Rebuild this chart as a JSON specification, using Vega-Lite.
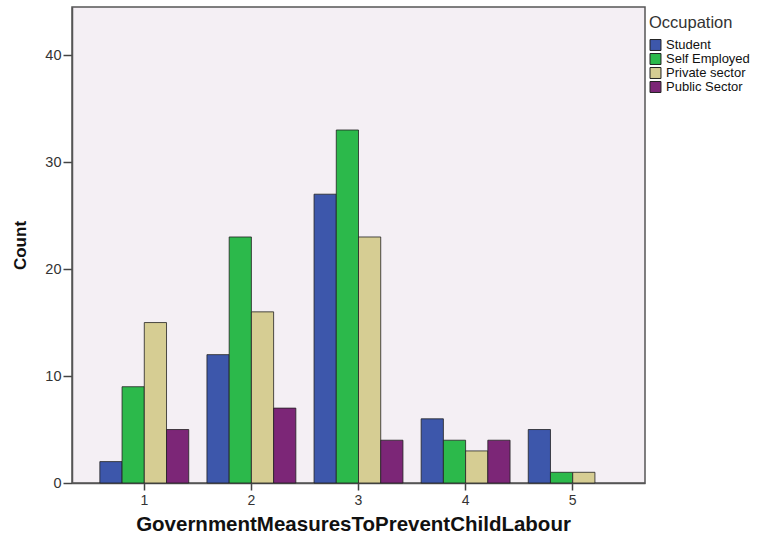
{
  "$schema": "https://vega.github.io/schema/vega-lite/v6.json",
  "autosize": "none",
  "width": 573,
  "height": 476,
  "padding": {"left": 72, "top": 7, "right": 114, "bottom": 50},
  "background": "white",
  "config": {
    "view": {"fill": "#f4eff4", "stroke": "#555555", "strokeWidth": 1.5},
    "font": "Liberation Sans"
  },
  "data": {
    "values": [
      {"measure": "1", "occupation": "Student", "count": 2},
      {"measure": "1", "occupation": "Self Employed", "count": 9},
      {"measure": "1", "occupation": "Private sector", "count": 15},
      {"measure": "1", "occupation": "Public Sector", "count": 5},
      {"measure": "2", "occupation": "Student", "count": 12},
      {"measure": "2", "occupation": "Self Employed", "count": 23},
      {"measure": "2", "occupation": "Private sector", "count": 16},
      {"measure": "2", "occupation": "Public Sector", "count": 7},
      {"measure": "3", "occupation": "Student", "count": 27},
      {"measure": "3", "occupation": "Self Employed", "count": 33},
      {"measure": "3", "occupation": "Private sector", "count": 23},
      {"measure": "3", "occupation": "Public Sector", "count": 4},
      {"measure": "4", "occupation": "Student", "count": 6},
      {"measure": "4", "occupation": "Self Employed", "count": 4},
      {"measure": "4", "occupation": "Private sector", "count": 3},
      {"measure": "4", "occupation": "Public Sector", "count": 4},
      {"measure": "5", "occupation": "Student", "count": 5},
      {"measure": "5", "occupation": "Self Employed", "count": 1},
      {"measure": "5", "occupation": "Private sector", "count": 1}
    ]
  },
  "mark": {"type": "bar", "stroke": "#222222", "strokeWidth": 1, "strokeOpacity": 0.8},
  "encoding": {
    "x": {
      "field": "measure",
      "type": "nominal",
      "scale": {"paddingInner": 0.17, "paddingOuter": 0.26},
      "axis": {
        "title": "GovernmentMeasuresToPreventChildLabour",
        "titleFont": "Liberation Sans",
        "titleFontSize": 20.5,
        "titleFontWeight": "bold",
        "titleColor": "#111111",
        "titlePadding": 7,
        "titleX": 281,
        "labelAngle": 0,
        "labelFontSize": 14,
        "labelColor": "#333333",
        "labelPadding": 3,
        "tickSize": 7,
        "tickColor": "#444444",
        "tickWidth": 1.5,
        "domainColor": "#555555",
        "domainWidth": 1.5,
        "grid": false
      }
    },
    "xOffset": {
      "field": "occupation",
      "type": "nominal",
      "sort": ["Student", "Self Employed", "Private sector", "Public Sector"],
      "scale": {"paddingInner": 0, "paddingOuter": 0}
    },
    "y": {
      "field": "count",
      "type": "quantitative",
      "scale": {"domain": [0, 44.5], "nice": false},
      "axis": {
        "title": "Count",
        "titleFontSize": 17,
        "titleFontWeight": "bold",
        "titleColor": "#111111",
        "titlePadding": 15,
        "values": [0, 10, 20, 30, 40],
        "labelFontSize": 14.5,
        "labelColor": "#333333",
        "labelPadding": 2,
        "tickSize": 9,
        "tickColor": "#444444",
        "tickWidth": 1.5,
        "domainColor": "#555555",
        "domainWidth": 1.5,
        "grid": false
      }
    },
    "color": {
      "field": "occupation",
      "type": "nominal",
      "sort": ["Student", "Self Employed", "Private sector", "Public Sector"],
      "scale": {
        "domain": ["Student", "Self Employed", "Private sector", "Public Sector"],
        "range": ["#3d57ab", "#2cb94b", "#d6cd93", "#7c2677"]
      },
      "legend": {
        "title": "Occupation",
        "orient": "none",
        "legendX": 577,
        "legendY": 8,
        "padding": 0,
        "titleFontSize": 16.5,
        "titleFontWeight": "normal",
        "titleColor": "#333333",
        "titlePadding": 7,
        "labelFontSize": 13,
        "labelColor": "#111111",
        "symbolType": "square",
        "symbolSize": 120,
        "symbolStrokeColor": "#222222",
        "symbolStrokeWidth": 1,
        "rowPadding": 0,
        "clipHeight": 13,
        "labelOffset": 4
      }
    }
  }
}
